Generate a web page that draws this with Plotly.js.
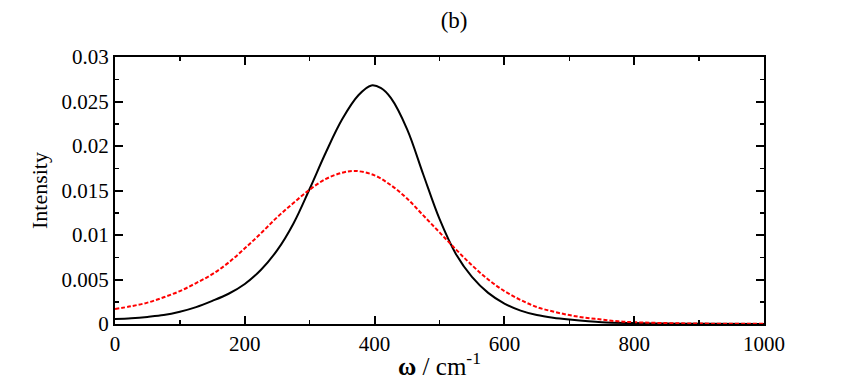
<!DOCTYPE html>
<html>
<head>
<meta charset="utf-8">
<script src="https://cdn.plot.ly/plotly-3.0.1.min.js"></script>
<style>html,body{margin:0;padding:0;background:#fff;}#chart{width:841px;height:382px;}</style>
</head>
<body>
<div id="chart"></div>
<script>
var blackX = [0, 25, 50, 75, 100, 125, 150, 175, 200, 225, 250, 275, 300, 325, 350, 375, 395, 410, 425, 450, 475, 500, 525, 550, 575, 600, 625, 650, 675, 700, 750, 800, 850, 900, 1000];
var blackY = [0.00056, 0.00065, 0.0008, 0.001, 0.00138, 0.0019, 0.0026, 0.0034, 0.0045, 0.0061, 0.0083, 0.0113, 0.0152, 0.0193, 0.0230, 0.0257, 0.0268, 0.0265, 0.0254, 0.0219, 0.0168, 0.0118, 0.0079, 0.0053, 0.0035, 0.0023, 0.0015, 0.0010, 0.0007, 0.0005, 0.0002, 0.0001, 0.00005, 0.00003, 0.00001];

var redX = [0, 25, 50, 75, 100, 125, 150, 175, 200, 225, 250, 275, 300, 325, 350, 370, 400, 425, 450, 475, 500, 525, 550, 575, 600, 625, 650, 675, 700, 725, 750, 775, 800, 850, 900, 1000];
var redY = [0.00168, 0.002, 0.0024, 0.003, 0.0037, 0.0046, 0.0056, 0.0069, 0.0085, 0.0102, 0.0120, 0.0136, 0.0151, 0.0163, 0.0170, 0.0172, 0.0167, 0.0156, 0.0141, 0.0122, 0.0103, 0.0084, 0.0066, 0.0050, 0.0037, 0.0027, 0.0019, 0.0014, 0.0010, 0.0007, 0.0005, 0.0003, 0.0002, 0.0001, 0.00005, 0.00002];

var xTickVals = [0, 200, 400, 600, 800, 1000];
var yTickVals = [0, 0.005, 0.01, 0.015, 0.02, 0.025, 0.03];
var yTickText = ['0', '0.005', '0.01', '0.015', '0.02', '0.025', '0.03'];

var traces = [
  {x: blackX, y: blackY, mode: 'lines', line: {color: '#000000', width: 2, shape: 'spline', smoothing: 1}, showlegend: false, hoverinfo: 'skip'},
  {x: redX, y: redY, mode: 'lines', line: {color: '#ff0000', width: 2, dash: '4px,2px', shape: 'spline', smoothing: 1}, showlegend: false, hoverinfo: 'skip'}
];

var serif = 'Liberation Serif';
var layout = {
  width: 841, height: 382,
  font: {family: serif, size: 21, color: '#000'},
  margin: {l: 115, r: 77, t: 57, b: 58},
  paper_bgcolor: '#fff', plot_bgcolor: '#fff',
  title: {text: '(b)', font: {family: serif, size: 23, color: '#000'}, x: 0.5225, xanchor: 'center', y: 0.947, yanchor: 'middle', xref: 'paper'},
  xaxis: {
    showgrid: false, zeroline: false, showline: true, linecolor: '#000', linewidth: 2,
    mirror: 'allticks', ticks: 'inside', ticklen: 8, tickwidth: 2, tickcolor: '#000',
    tickfont: {family: serif, size: 21, color: '#000'},
    range: [0, 1000], tickvals: xTickVals, ticktext: xTickVals.map(String),
    minor: {dtick: 100, tick0: 0, ticks: 'inside', ticklen: 4, tickwidth: 1.5, tickcolor: '#000'},
    title: {text: '<b>ω</b> / cm<sup>-1</sup>', font: {family: serif, size: 25, color: '#000'}, standoff: 2}
  },
  yaxis: {
    showgrid: false, zeroline: false, showline: true, linecolor: '#000', linewidth: 2,
    mirror: 'allticks', ticks: 'inside', ticklen: 8, tickwidth: 2, tickcolor: '#000',
    tickfont: {family: serif, size: 21, color: '#000'},
    range: [0, 0.03], tickvals: yTickVals, ticktext: yTickText,
    minor: {dtick: 0.0025, tick0: 0, ticks: 'inside', ticklen: 4, tickwidth: 1.5, tickcolor: '#000'},
    title: {text: 'Intensity', font: {family: serif, size: 22, color: '#000'}, standoff: 8}
  }
};

Plotly.newPlot('chart', traces, layout, {staticPlot: true, displayModeBar: false});
</script>
</body>
</html>
